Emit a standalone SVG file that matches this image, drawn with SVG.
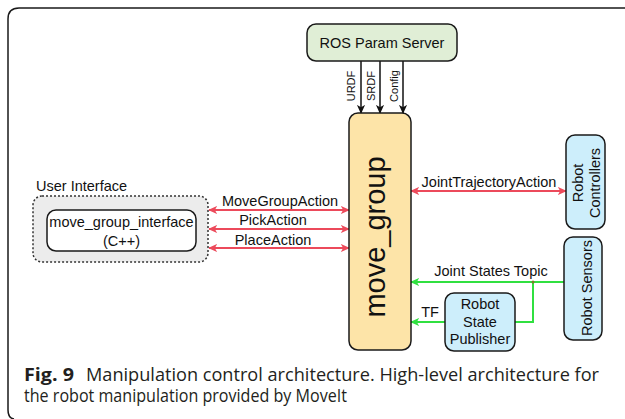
<svg xmlns="http://www.w3.org/2000/svg" width="625" height="419" viewBox="0 0 625 419">
  <style>
    .lbl { font-family: "Liberation Sans", Arial, sans-serif; font-size: 14.5px; fill: #111; }
    .small { font-family: "Liberation Sans", Arial, sans-serif; font-size: 11px; fill: #111; }
    .box { stroke: #1a1a1a; stroke-width: 1.5; }
    .red { stroke: #ec4a5b; stroke-width: 2; fill: none; }
    .green { stroke: #30e040; stroke-width: 2; fill: none; }
    .blk { stroke: #111; stroke-width: 1.5; fill: none; }
    .cap { font-family: "Open Sans", "Noto Sans", sans-serif; font-size: 18px; fill: #231f20; }
  </style>
  <defs>
    <marker id="ahRed" viewBox="0 0 10 10" refX="9" refY="5" markerWidth="9" markerHeight="9" markerUnits="userSpaceOnUse" orient="auto-start-reverse">
      <path d="M0,0.5 L10,5 L0,9.5 L2.5,5 Z" fill="#ec4a5b"/>
    </marker>
    <marker id="ahGreen" viewBox="0 0 10 10" refX="9" refY="5" markerWidth="9" markerHeight="9" markerUnits="userSpaceOnUse" orient="auto-start-reverse">
      <path d="M0,0.5 L10,5 L0,9.5 L2.5,5 Z" fill="#30e040"/>
    </marker>
    <marker id="ahBlk" viewBox="0 0 10 10" refX="9" refY="5" markerWidth="9" markerHeight="9" markerUnits="userSpaceOnUse" orient="auto">
      <path d="M0,0.5 L10,5 L0,9.5 L2.5,5 Z" fill="#111"/>
    </marker>
  </defs>

  <rect width="625" height="419" fill="#ffffff"/>

  <!-- figure frame -->
  <path d="M14,419 Q8,418 8,410 L8,19 Q8,8 19,8 L625,8" fill="none" stroke="#1a1a1a" stroke-width="1.5"/>

  <!-- connectors -->
  <g id="connectors">
    <line class="blk" x1="361" y1="61" x2="361" y2="113" marker-end="url(#ahBlk)"/>
    <line class="blk" x1="380" y1="61" x2="380" y2="113" marker-end="url(#ahBlk)"/>
    <line class="blk" x1="403" y1="61" x2="403" y2="113" marker-end="url(#ahBlk)"/>
    <text class="small" transform="translate(355,86) rotate(-90)" text-anchor="middle">URDF</text>
    <text class="small" transform="translate(375,86) rotate(-90)" text-anchor="middle">SRDF</text>
    <text class="small" transform="translate(398,86) rotate(-90)" text-anchor="middle">Config</text>

    <line class="red" x1="209" y1="210" x2="349" y2="210" marker-start="url(#ahRed)" marker-end="url(#ahRed)"/>
    <line class="red" x1="209" y1="229" x2="349" y2="229" marker-start="url(#ahRed)" marker-end="url(#ahRed)"/>
    <line class="red" x1="209" y1="248" x2="349" y2="248" marker-start="url(#ahRed)" marker-end="url(#ahRed)"/>
    <text class="lbl" x="280" y="206" text-anchor="middle">MoveGroupAction</text>
    <text class="lbl" x="273" y="225" text-anchor="middle">PickAction</text>
    <text class="lbl" x="273" y="244.5" text-anchor="middle">PlaceAction</text>

    <line class="red" x1="411" y1="191" x2="566" y2="191" marker-start="url(#ahRed)" marker-end="url(#ahRed)"/>
    <text class="lbl" x="489" y="187" text-anchor="middle">JointTrajectoryAction</text>

    <line class="green" x1="564" y1="282" x2="411" y2="282" marker-end="url(#ahGreen)"/>
    <path class="green" d="M533,282 V322 H515"/>
    <circle cx="533" cy="282" r="1.5" fill="#7a7a2a"/>
    <text class="lbl" x="491" y="276" text-anchor="middle">Joint States Topic</text>

    <line class="green" x1="445" y1="322" x2="411" y2="322" marker-end="url(#ahGreen)"/>
    <text class="lbl" x="430" y="317" text-anchor="middle">TF</text>
  </g>

  <!-- nodes -->
  <g id="ros-param-server">
    <rect class="box" x="307" y="24" width="150" height="37" rx="9" fill="#e0eed6"/>
    <text class="lbl" x="382" y="48" text-anchor="middle" font-size="14.5">ROS Param Server</text>
  </g>

  <g id="move-group">
    <rect class="box" x="349" y="113" width="62" height="237" rx="9" fill="#fde4a8"/>
    <text transform="translate(385,237) rotate(-90)" text-anchor="middle" font-family="Liberation Sans, Arial, sans-serif" font-size="29" fill="#111">move_group</text>
  </g>

  <g id="user-interface">
    <rect x="33" y="196" width="175" height="66" rx="9" fill="#ececec" stroke="#333" stroke-width="1.5" stroke-dasharray="2,2"/>
    <text class="lbl" x="36" y="191">User Interface</text>
  </g>

  <g id="move-group-interface">
    <rect class="box" x="47" y="210" width="149" height="41" rx="9" fill="#ffffff"/>
    <text class="lbl" x="121.5" y="226.5" text-anchor="middle">move_group_interface</text>
    <text class="lbl" x="121.5" y="245.5" text-anchor="middle">(C++)</text>
  </g>

  <g id="robot-controllers">
    <rect class="box" x="566" y="135" width="39" height="94" rx="9" fill="#cdeefb"/>
    <text class="lbl" transform="translate(583,183) rotate(-90)" text-anchor="middle" font-size="15">Robot</text>
    <text class="lbl" transform="translate(600,183) rotate(-90)" text-anchor="middle" font-size="15">Controllers</text>
  </g>

  <g id="robot-sensors">
    <rect class="box" x="564" y="237" width="38" height="103" rx="9" fill="#cdeefb"/>
    <text class="lbl" transform="translate(592,288) rotate(-90)" text-anchor="middle" font-size="15">Robot Sensors</text>
  </g>

  <g id="robot-state-publisher">
    <rect class="box" x="445" y="293" width="70" height="58" rx="9" fill="#cdeefb"/>
    <text class="lbl" x="480" y="309" text-anchor="middle">Robot</text>
    <text class="lbl" x="480" y="326.5" text-anchor="middle">State</text>
    <text class="lbl" x="480" y="344" text-anchor="middle">Publisher</text>
  </g>

  <!-- caption -->
  <text class="cap" x="24" y="381" font-weight="bold" textLength="50" lengthAdjust="spacingAndGlyphs">Fig. 9</text>
  <text class="cap" x="86" y="381" textLength="513" lengthAdjust="spacingAndGlyphs">Manipulation control architecture. High-level architecture for</text>
  <text class="cap" x="24" y="402" textLength="323" lengthAdjust="spacingAndGlyphs">the robot manipulation provided by MoveIt</text>
</svg>
